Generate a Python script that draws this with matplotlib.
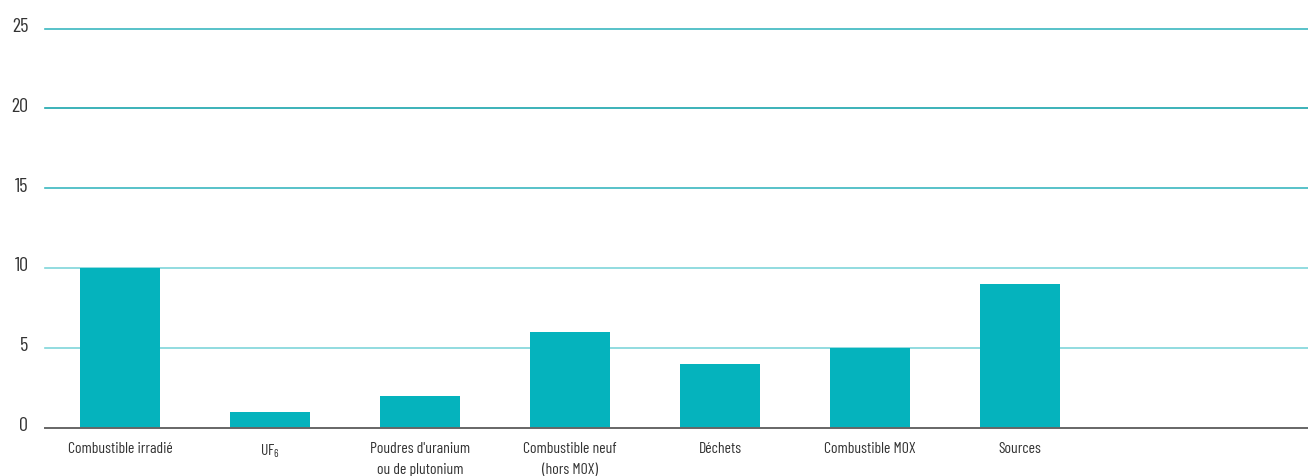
import matplotlib
matplotlib.use("Agg")
import matplotlib.pyplot as plt
from matplotlib import font_manager
from matplotlib.transforms import ScaledTranslation

# Data
categories = ["Combustible irradié", "UF$_6$", "Poudres d'uranium\nou de plutonium",
              "Combustible neuf\n(hors MOX)", "Déchets", "Combustible MOX", "Sources"]
values = [10, 1, 2, 6, 4, 5, 9]
y_ticks = [0, 5, 10, 15, 20, 25]

# Narrow sans-serif faces, first installed one wins
preferred = ["Barlow Condensed", "Roboto Condensed", "Archivo Narrow", "PT Sans Narrow",
             "Fira Sans Condensed", "IBM Plex Sans Condensed", "DejaVu Sans"]
installed = {f.name for f in font_manager.fontManager.ttflist}
family = next(n for n in preferred if n in installed)
plt.rcParams["font.family"] = [family, "DejaVu Sans"]
plt.rcParams["mathtext.fontset"] = "custom"
plt.rcParams["mathtext.rm"] = family
plt.rcParams["mathtext.it"] = family

fig = plt.figure(figsize=(13.08, 4.77), dpi=100)
ax = fig.add_axes([45 / 1308, 48.5 / 477, 1 - 45 / 1308, 399 / 477])

bar_color = "#05b3bd"
x = list(range(len(categories)))
ax.bar(x, values, width=0.527, color=bar_color, zorder=3)

# Horizontal grid lines
grid_colors = {5: "#7fd6da", 10: "#7fd6da", 15: "#3bb8c0", 20: "#1aa5ad", 25: "#3bb8c0"}
for yv, c in grid_colors.items():
    ax.axhline(yv, color=c, lw=1.2, zorder=1, clip_on=False)
ax.axhline(0, color="#666666", lw=1.4, zorder=4, clip_on=False)

ax.set_xlim(-0.5, 7.92)
ax.set_ylim(0, 25)
ax.set_yticks(y_ticks)
ax.set_yticklabels([str(v) for v in y_ticks])
ax.set_xticks(x)
ax.set_xticklabels(categories, linespacing=1.6)
ax.tick_params(axis="both", length=0, colors="#333333")
ax.tick_params(axis="x", pad=10, labelsize=11.3)
ax.tick_params(axis="y", pad=12, labelsize=14.5)
shift = ScaledTranslation(0, -2.5 / 100, fig.dpi_scale_trans)
for lab in ax.get_yticklabels():
    lab.set_verticalalignment("baseline")
    lab.set_transform(lab.get_transform() + shift)

for s in ax.spines.values():
    s.set_visible(False)

fig.savefig("out.png", dpi=100)
